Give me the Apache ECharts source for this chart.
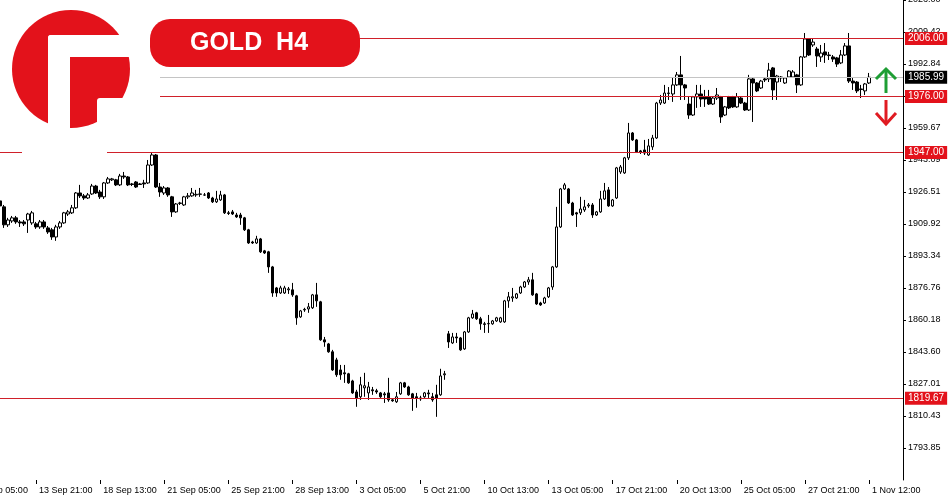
<!DOCTYPE html>
<html>
<head>
<meta charset="utf-8">
<title>GOLD H4</title>
<script src="https://cdn.jsdelivr.net/npm/echarts@6.0.0/dist/echarts.min.js"></script>
<style>
  html, body { margin: 0; padding: 0; background: #fff; }
  #chart { width: 950px; height: 500px; }
</style>
</head>
<body>
<div id="chart"></div>
<script>
// H4 bars, oldest first
const openP = [
  1921.9, 1918.8, 1909.5, 1911.5, 1913.1, 1911.0, 1911.0, 1912.0, 1910.5, 1910.0,
  1908.4, 1911.0, 1907.9, 1906.9, 1903.2, 1908.4, 1910.5, 1915.1, 1915.7, 1918.3,
  1926.0, 1924.5, 1923.4, 1925.5, 1929.6, 1926.5, 1924.0, 1931.2, 1932.8, 1932.8,
  1930.2, 1934.8, 1934.3, 1930.7, 1931.7, 1930.7, 1931.2, 1931.2, 1940.5, 1945.7,
  1929.1, 1926.0, 1928.6, 1924.0, 1916.2, 1920.6, 1919.8, 1924.0, 1924.5, 1925.0,
  1925.3, 1925.0, 1926.0, 1923.4, 1921.4, 1922.4, 1925.0, 1915.7, 1916.2, 1914.6,
  1914.6, 1913.1, 1906.9, 1900.6, 1900.1, 1902.2, 1896.0, 1895.5, 1887.7, 1876.8,
  1874.2, 1874.2, 1875.8, 1875.8, 1872.7, 1861.8, 1865.4, 1865.9, 1866.5, 1873.2,
  1869.6, 1849.9, 1847.8, 1843.7, 1839.5, 1834.3, 1832.8, 1832.3, 1828.6, 1822.9,
  1820.4, 1825.0, 1822.4, 1824.0, 1823.5, 1822.4, 1821.9, 1822.4, 1818.8, 1817.8,
  1821.9, 1827.6, 1825.5, 1821.9, 1820.4, 1819.8, 1820.4, 1822.4, 1820.4, 1821.4,
  1821.4, 1831.8, 1853.0, 1848.3, 1851.4, 1850.9, 1845.2, 1854.0, 1861.3, 1863.9,
  1860.8, 1858.2, 1858.2, 1858.2, 1859.7, 1859.2, 1859.2, 1870.1, 1871.6, 1871.6,
  1874.2, 1877.3, 1879.9, 1881.0, 1873.7, 1869.0, 1869.0, 1872.2, 1877.3, 1887.7,
  1908.4, 1928.1, 1928.1, 1920.8, 1915.7, 1915.7, 1917.2, 1919.3, 1919.8, 1914.6,
  1916.2, 1922.9, 1927.6, 1919.3, 1923.4, 1936.9, 1936.4, 1944.2, 1957.1, 1953.5,
  1947.8, 1948.3, 1945.7, 1949.9, 1954.5, 1972.6, 1972.6, 1977.8, 1977.3, 1982.0,
  1987.2, 1982.0, 1972.1, 1966.4, 1975.8, 1977.3, 1975.8, 1975.8, 1972.1, 1975.2,
  1975.8, 1966.4, 1975.8, 1975.8, 1970.6, 1975.2, 1972.6, 1969.0, 1985.1, 1983.0,
  1980.4, 1985.1, 1985.1, 1990.8, 1983.5, 1986.1, 1983.0, 1986.1, 1986.1, 1987.2,
  1982.0, 1996.5, 2005.8, 2002.7, 2000.6, 1996.5, 1999.1, 1997.5, 1996.5, 1996.0,
  1993.4, 1997.5, 2002.2, 1984.0, 1983.5, 1979.9, 1978.9, 1983.0
]
const closeP = [
  1919.3, 1909.5, 1912.0, 1913.1, 1911.0, 1910.5, 1910.0, 1915.1, 1915.7, 1908.4,
  1911.0, 1908.4, 1905.8, 1903.2, 1908.4, 1910.5, 1915.7, 1916.2, 1918.3, 1926.0,
  1924.5, 1923.4, 1925.0, 1929.6, 1926.0, 1924.0, 1931.2, 1933.3, 1933.3, 1930.2,
  1934.8, 1934.3, 1930.2, 1930.4, 1929.1, 1930.4, 1930.7, 1940.5, 1945.7, 1929.1,
  1926.5, 1928.6, 1925.0, 1916.2, 1920.3, 1920.8, 1924.0, 1924.5, 1926.0, 1925.3,
  1925.5, 1924.9, 1923.4, 1921.4, 1922.9, 1925.0, 1915.7, 1915.4, 1915.1, 1913.6,
  1913.1, 1906.9, 1900.1, 1900.1, 1902.2, 1895.5, 1894.9, 1887.7, 1874.2, 1874.2,
  1876.8, 1876.8, 1876.3, 1873.2, 1861.3, 1864.9, 1865.7, 1867.0, 1873.2, 1870.1,
  1849.9, 1848.8, 1843.7, 1834.3, 1831.8, 1831.8, 1832.3, 1827.6, 1822.4, 1819.8,
  1826.6, 1826.1, 1825.5, 1823.5, 1822.9, 1820.4, 1821.4, 1818.8, 1818.3, 1820.4,
  1827.6, 1825.5, 1821.4, 1819.8, 1819.8, 1819.3, 1822.4, 1821.9, 1818.8, 1819.8,
  1831.2, 1832.3, 1848.8, 1851.4, 1850.9, 1844.7, 1854.0, 1861.3, 1863.3, 1860.8,
  1858.2, 1857.9, 1858.4, 1859.7, 1861.3, 1861.3, 1870.1, 1872.2, 1872.2, 1873.7,
  1877.3, 1879.9, 1881.0, 1873.2, 1868.5, 1868.0, 1871.6, 1876.8, 1887.7, 1908.4,
  1928.1, 1930.2, 1920.8, 1914.6, 1915.1, 1917.7, 1918.8, 1919.8, 1914.6, 1916.2,
  1922.9, 1927.1, 1919.3, 1922.4, 1939.0, 1939.5, 1944.2, 1957.1, 1953.5, 1947.3,
  1947.3, 1946.7, 1950.4, 1954.5, 1972.6, 1974.2, 1977.8, 1977.6, 1982.0, 1987.2,
  1982.0, 1980.4, 1966.4, 1975.8, 1977.3, 1974.7, 1974.7, 1972.1, 1975.2, 1976.8,
  1965.4, 1970.6, 1970.1, 1970.6, 1975.8, 1972.6, 1969.0, 1985.1, 1983.0, 1978.9,
  1984.0, 1984.6, 1989.7, 1979.4, 1986.6, 1985.6, 1985.6, 1989.2, 1988.7, 1982.0,
  1996.5, 2005.8, 1997.5, 2004.2, 1997.0, 1998.5, 1997.5, 1997.2, 1995.4, 1992.8,
  1997.5, 2002.2, 1984.0, 1983.0, 1978.9, 1979.6, 1982.5, 1985.99
]
const lowP = [
  1918.3, 1907.9, 1908.4, 1910.5, 1910.0, 1908.4, 1908.9, 1905.3, 1909.5, 1907.4,
  1907.4, 1907.4, 1904.8, 1901.7, 1901.2, 1907.4, 1910.0, 1914.1, 1915.1, 1917.7,
  1923.4, 1922.4, 1922.9, 1925.0, 1925.5, 1922.9, 1922.9, 1930.7, 1932.2, 1929.6,
  1929.6, 1933.3, 1929.6, 1929.6, 1928.6, 1930.2, 1928.6, 1930.7, 1940.0, 1928.6,
  1924.0, 1925.0, 1924.0, 1913.6, 1915.7, 1919.8, 1919.3, 1922.9, 1924.0, 1924.0,
  1924.0, 1924.5, 1922.9, 1920.8, 1920.8, 1921.9, 1915.1, 1914.6, 1914.6, 1913.1,
  1909.5, 1906.3, 1899.6, 1899.6, 1899.6, 1894.9, 1894.4, 1884.6, 1872.2, 1872.2,
  1873.7, 1873.7, 1873.7, 1872.2, 1857.7, 1861.3, 1864.4, 1863.9, 1865.9, 1867.0,
  1849.4, 1846.3, 1843.2, 1833.8, 1830.7, 1829.2, 1827.6, 1827.1, 1821.9, 1815.2,
  1818.8, 1820.4, 1818.8, 1821.4, 1821.9, 1819.8, 1817.2, 1817.8, 1817.8, 1817.2,
  1821.4, 1825.0, 1820.9, 1813.1, 1814.7, 1818.3, 1819.8, 1819.8, 1817.8, 1810.0,
  1820.9, 1829.2, 1845.7, 1847.8, 1848.3, 1844.2, 1844.7, 1853.5, 1860.8, 1860.2,
  1855.1, 1853.5, 1853.5, 1857.7, 1859.2, 1858.7, 1858.7, 1866.5, 1869.6, 1871.1,
  1873.7, 1876.8, 1878.4, 1872.7, 1868.0, 1867.5, 1868.5, 1871.6, 1875.8, 1887.2,
  1907.9, 1927.6, 1920.3, 1914.1, 1908.4, 1914.6, 1916.2, 1918.3, 1913.1, 1914.1,
  1915.7, 1922.4, 1918.8, 1918.8, 1922.9, 1935.9, 1935.9, 1943.1, 1953.0, 1946.7,
  1946.2, 1945.7, 1945.2, 1948.3, 1954.0, 1971.6, 1972.1, 1974.2, 1973.2, 1981.5,
  1974.2, 1974.2, 1964.4, 1965.9, 1970.1, 1970.6, 1970.6, 1971.6, 1971.6, 1974.2,
  1962.3, 1965.9, 1969.5, 1970.1, 1970.1, 1972.1, 1968.5, 1968.5, 1962.8, 1978.3,
  1979.9, 1983.5, 1983.5, 1974.2, 1974.2, 1983.5, 1982.5, 1985.6, 1985.6, 1977.8,
  1981.5, 1996.0, 1997.0, 2001.7, 1991.3, 1993.9, 1993.4, 1994.9, 1993.9, 1991.3,
  1992.8, 1997.0, 1983.0, 1979.4, 1977.8, 1975.2, 1976.8, 1982.5
]
const highP = [
  1922.9, 1919.8, 1913.1, 1914.1, 1914.1, 1912.0, 1912.0, 1915.7, 1916.7, 1911.0,
  1912.0, 1912.0, 1908.9, 1907.9, 1909.5, 1911.5, 1916.2, 1917.2, 1919.8, 1926.5,
  1930.2, 1925.5, 1926.0, 1930.7, 1930.2, 1927.6, 1931.7, 1934.3, 1933.8, 1933.3,
  1935.9, 1936.9, 1934.8, 1931.2, 1932.2, 1931.2, 1932.8, 1943.1, 1947.0, 1946.2,
  1931.2, 1929.6, 1929.1, 1924.5, 1920.8, 1921.4, 1924.5, 1926.0, 1928.6, 1927.6,
  1928.6, 1926.0, 1926.5, 1924.0, 1927.1, 1927.1, 1925.5, 1916.7, 1917.2, 1915.7,
  1915.7, 1913.6, 1907.4, 1901.2, 1903.8, 1902.7, 1896.5, 1896.0, 1888.2, 1877.3,
  1877.9, 1877.9, 1877.3, 1879.4, 1873.2, 1865.4, 1866.5, 1869.0, 1873.7, 1879.4,
  1870.1, 1851.4, 1848.3, 1844.7, 1840.6, 1836.9, 1836.9, 1832.8, 1829.2, 1824.0,
  1830.7, 1832.8, 1828.1, 1825.5, 1824.5, 1822.9, 1822.9, 1830.2, 1819.3, 1822.9,
  1828.1, 1828.1, 1826.1, 1822.4, 1822.4, 1820.9, 1822.9, 1824.0, 1822.4, 1826.6,
  1834.9, 1833.8, 1854.5, 1853.5, 1853.5, 1851.4, 1854.5, 1861.8, 1865.4, 1864.4,
  1861.8, 1859.2, 1862.8, 1860.2, 1861.8, 1861.8, 1870.6, 1874.7, 1876.8, 1874.2,
  1877.9, 1880.4, 1882.5, 1884.6, 1874.2, 1869.6, 1872.2, 1877.3, 1888.2, 1918.8,
  1928.6, 1931.2, 1928.6, 1921.4, 1916.2, 1924.0, 1922.4, 1920.8, 1920.8, 1916.7,
  1927.1, 1931.2, 1929.1, 1922.9, 1939.5, 1940.5, 1944.7, 1962.3, 1957.6, 1954.0,
  1948.3, 1953.5, 1954.0, 1956.1, 1973.2, 1976.8, 1982.0, 1980.9, 1985.6, 1988.7,
  1997.0, 1982.5, 1975.8, 1976.3, 1982.0, 1982.0, 1979.4, 1979.4, 1975.8, 1980.4,
  1976.3, 1971.1, 1976.3, 1976.3, 1977.8, 1975.8, 1973.2, 1987.2, 1985.6, 1983.5,
  1984.6, 1986.1, 1993.4, 1991.3, 1987.2, 1986.6, 1986.1, 1989.7, 1989.7, 1987.7,
  1997.0, 2008.9, 2006.3, 2005.8, 2001.7, 2002.7, 2003.7, 1999.1, 1997.5, 1996.5,
  2000.1, 2003.7, 2008.9, 1986.1, 1984.0, 1982.0, 1983.0, 1988.2
]

// time labels: bar index (0 = first visible bar) and text
const xTickIndex = [-7, 9, 25, 41, 57, 73, 89, 105, 121, 137, 153, 169, 185, 201, 217]
const xTickText = ['11 Sep 05:00', '13 Sep 21:00', '18 Sep 13:00', '21 Sep 05:00', '25 Sep 21:00',
  '28 Sep 13:00', '3 Oct 05:00', '5 Oct 21:00', '10 Oct 13:00', '13 Oct 05:00', '17 Oct 21:00',
  '20 Oct 13:00', '25 Oct 05:00', '27 Oct 21:00', '1 Nov 12:00']
const barsBefore = 7 // bars left of the window (only their label shows)
const barsAfter = 8  // empty shift at the right

// price scale
const yMin = 1777.27
const yMax = 2026.0
const yTickLabels = ['1793.85', '1810.43', '1827.01', '1843.60', '1860.18', '1876.76', '1893.34',
  '1909.92', '1926.51', '1943.09', '1959.67', '1976.25', '1992.84', '2009.42', '2026.00']

// drawn levels
const redLevels = [2006.0, 1976.0, 1947.0, 1819.67]
const lastPrice = 1985.99

const RED = '#e3121b'
const FONT = 'Liberation Sans'

const nBars = openP.length
const cats = []
const candles = []
for (let i = -barsBefore; i < nBars + barsAfter; i++) {
  cats.push(String(i))
  if (i >= 0 && i < nBars) {
    candles.push([openP[i], closeP[i], lowP[i], highP[i]])
  } else {
    candles.push(['-', '-', '-', '-'])
  }
}
const labelAt = {}
xTickIndex.forEach((b, j) => { labelAt[b + barsBefore] = xTickText[j] })
const hasLabel = idx => labelAt[idx] !== undefined

const tagLabel = bg => ({
  show: true,
  position: 'end',
  distance: 2,
  formatter: p => p.value.toFixed(2),
  color: '#fff',
  backgroundColor: bg,
  fontFamily: FONT,
  fontSize: 10,
  lineHeight: 11,
  padding: [1, 3, 1, 3]
})

const levelLines = redLevels.map(v => ({
  yAxis: v,
  lineStyle: { color: '#d0202a', width: 1, type: 'solid' },
  label: tagLabel(RED)
}))
levelLines.push({
  yAxis: lastPrice,
  lineStyle: { color: '#c4c4c4', width: 1, type: 'solid' },
  label: tagLabel('#000')
})

const chart = echarts.init(document.getElementById('chart'))
chart.setOption({
  backgroundColor: '#fff',
  animation: false,
  grid: { left: -30, right: 47, top: 0, bottom: 20, containLabel: false, outerBoundsMode: 'none' },
  xAxis: {
    type: 'category',
    data: cats,
    boundaryGap: true,
    axisLine: { show: false },
    axisTick: {
      show: true,
      alignWithLabel: true,
      interval: idx => hasLabel(idx),
      length: 4,
      lineStyle: { color: '#000', width: 1 }
    },
    axisLabel: {
      interval: idx => hasLabel(idx),
      formatter: (v, idx) => labelAt[idx] || '',
      align: 'left',
      padding: [0, 0, 0, 3],
      margin: 6,
      color: '#000',
      fontFamily: FONT,
      fontSize: 9
    },
    splitLine: { show: false }
  },
  yAxis: {
    type: 'value',
    position: 'right',
    min: yMin,
    max: yMax,
    axisLine: { show: true, lineStyle: { color: '#000', width: 1 } },
    axisTick: {
      show: true,
      length: 3,
      customValues: yTickLabels.map(Number),
      lineStyle: { color: '#000' }
    },
    axisLabel: {
      customValues: yTickLabels.map(Number),
      formatter: v => v.toFixed(2),
      margin: 5,
      color: '#000',
      fontFamily: FONT,
      fontSize: 9
    },
    splitLine: { show: false }
  },
  series: [{
    type: 'candlestick',
    data: candles,
    barWidth: 3,
    itemStyle: {
      color: '#fff',
      color0: '#000',
      borderColor: '#000',
      borderColor0: '#000',
      borderColorDoji: '#000',
      borderWidth: 1
    },
    emphasis: { disabled: true },
    markLine: {
      silent: true,
      symbol: ['none', 'none'],
      precision: 2,
      data: levelLines
    }
  }],
  graphic: [
    // white patch behind the logo (hides the level lines)
    { type: 'rect', z: 100, shape: { x: 0, y: 0, width: 160, height: 140 }, style: { fill: '#fff' } },
    { type: 'rect', z: 100, shape: { x: 22, y: 140, width: 85, height: 18 }, style: { fill: '#fff' } },
    // logo
    { type: 'circle', z: 101, shape: { cx: 71, cy: 69, r: 59 }, style: { fill: RED } },
    { type: 'rect', z: 102, shape: { x: 48, y: 35, width: 22, height: 100, r: [3, 0, 0, 0] }, style: { fill: '#fff' } },
    { type: 'rect', z: 102, shape: { x: 48, y: 35, width: 90, height: 22, r: [3, 0, 0, 0] }, style: { fill: '#fff' } },
    { type: 'rect', z: 102, shape: { x: 97, y: 98, width: 40, height: 40, r: [3, 0, 0, 0] }, style: { fill: '#fff' } },
    // title pill
    { type: 'rect', z: 101, shape: { x: 150, y: 19, width: 210, height: 48, r: 20 }, style: { fill: RED } },
    {
      type: 'text', z: 102, x: 249, y: 43,
      style: {
        text: 'GOLD  H4', fill: '#fff', font: 'bold 25px "Liberation Sans", Arial, sans-serif',
        textAlign: 'center', textVerticalAlign: 'middle'
      }
    },
    // up / down arrows
    { type: 'polyline', z: 101, shape: { points: [[876, 79], [886, 69], [896, 79]] }, style: { stroke: '#1e9e34', lineWidth: 3, fill: null } },
    { type: 'line', z: 101, shape: { x1: 886, y1: 69, x2: 886, y2: 93 }, style: { stroke: '#1e9e34', lineWidth: 3 } },
    { type: 'line', z: 101, shape: { x1: 886, y1: 100, x2: 886, y2: 124 }, style: { stroke: '#e01b22', lineWidth: 3 } },
    { type: 'polyline', z: 101, shape: { points: [[876, 113], [886, 124], [896, 113]] }, style: { stroke: '#e01b22', lineWidth: 3, fill: null } }
  ]
})
</script>
</body>
</html>
